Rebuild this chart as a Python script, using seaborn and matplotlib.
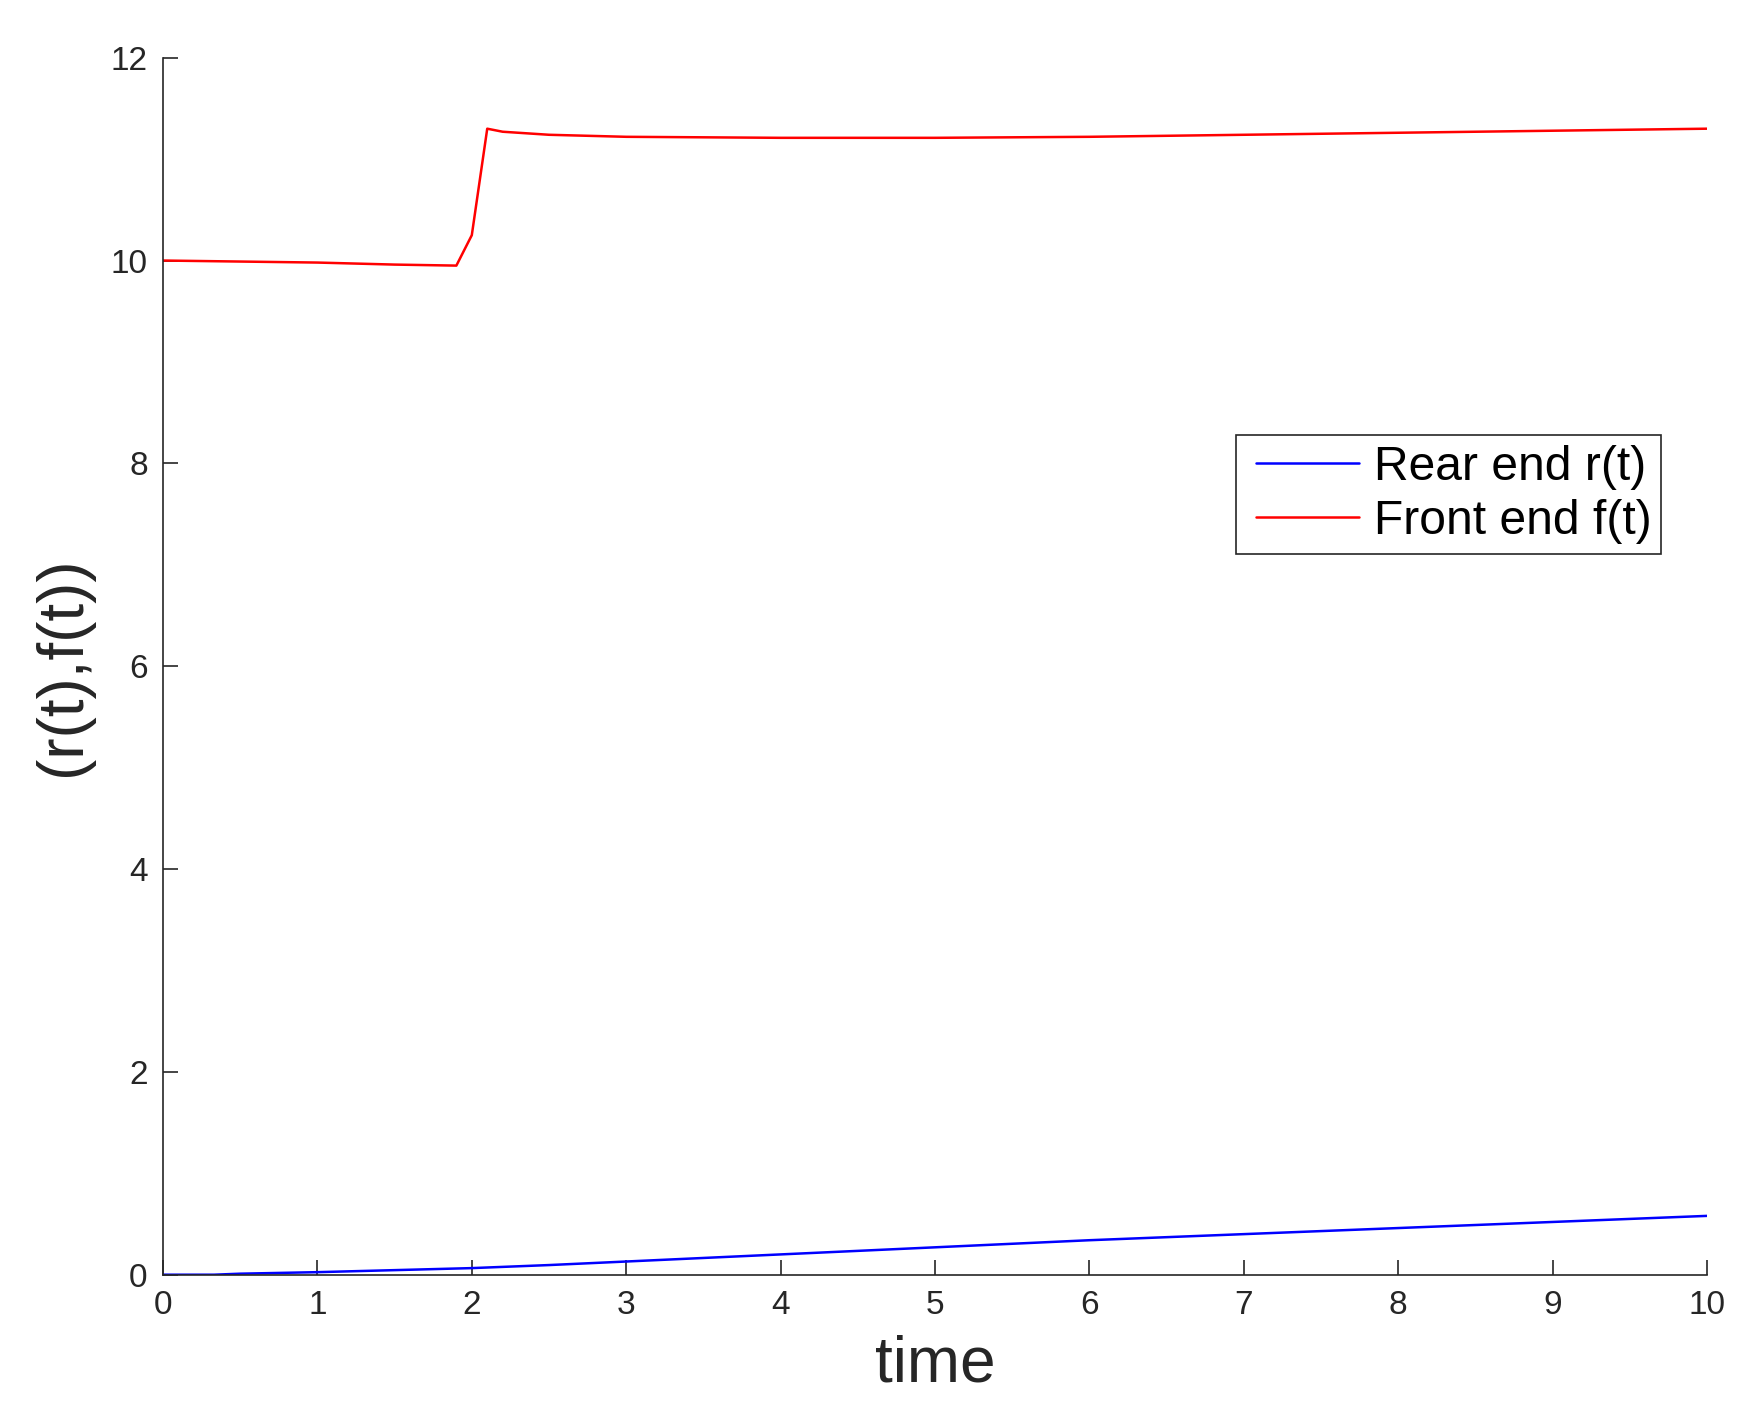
import matplotlib
matplotlib.use("Agg")
import matplotlib.pyplot as plt
from matplotlib.lines import Line2D
from matplotlib.legend_handler import HandlerLine2D
import seaborn as sns
import pandas as pd

# Data
t_front = [0, 0.5, 1, 1.5, 1.9, 2.0, 2.1, 2.2, 2.5, 3, 4, 5, 6, 7, 8, 9, 10]
f_front = [10.0, 9.99, 9.98, 9.96, 9.95, 10.25, 11.30, 11.27, 11.24, 11.22,
           11.21, 11.21, 11.22, 11.24, 11.26, 11.28, 11.30]

t_rear = [0, 0.33, 0.5, 1, 1.5, 2, 2.5, 3, 4, 5, 6, 7, 8, 9, 10]
r_rear = [0, 0.0, 0.01, 0.025, 0.045, 0.065, 0.095, 0.13, 0.2, 0.27, 0.34,
          0.40, 0.46, 0.52, 0.58]

series_labels = ["Rear end r(t)", "Front end f(t)"]
series_colors = ["#0000ff", "#ff0000"]
x_ticks = list(range(0, 11))
y_ticks = [0, 2, 4, 6, 8, 10, 12]

sns.set_style("ticks")
plt.rcParams['font.family'] = ['Liberation Sans', 'DejaVu Sans']

df = pd.concat([
    pd.DataFrame({"time": t_rear, "value": r_rear, "series": series_labels[0]}),
    pd.DataFrame({"time": t_front, "value": f_front, "series": series_labels[1]}),
])

fig = plt.figure(figsize=(17.6, 14.1), dpi=100)
ax = fig.add_axes([163 / 1760, 1 - 1274.7 / 1410, (1707 - 163) / 1760, (1274.7 - 57.7) / 1410])

sns.lineplot(data=df, x="time", y="value", hue="series", hue_order=series_labels,
             palette=series_colors, ax=ax, linewidth=1.8, estimator=None, sort=False)

ax.set_xlim(0, 10)
ax.set_ylim(0, 12)
ax.set_xticks(x_ticks)
ax.set_yticks(y_ticks)
ax.set_xlabel("time", fontsize=46, color="#262626", labelpad=10)
ax.set_ylabel("(r(t),f(t))", fontsize=46, color="#262626", labelpad=13)
for s in ["top", "right"]:
    ax.spines[s].set_visible(False)
for s in ["left", "bottom"]:
    ax.spines[s].set_color("#262626")
    ax.spines[s].set_linewidth(1.2)
ax.tick_params(direction="in", length=11, width=1.2, colors="#262626",
               labelsize=24, pad=11)

leg = ax.legend(loc="upper left", bbox_to_anchor=(1235.7 / 1760, 1 - 435 / 1410),
                bbox_transform=fig.transFigure, fontsize=34.6, frameon=True,
                fancybox=False, framealpha=1, edgecolor="#262626",
                borderaxespad=0, borderpad=0.2, handlelength=2.37,
                handletextpad=0.3, labelspacing=0.2, title=None,
                labelcolor="black",
                handler_map={Line2D: HandlerLine2D(xpad=0.23)})
leg.get_frame().set_linewidth(1.2)

fig.savefig("out.png", dpi=100)
